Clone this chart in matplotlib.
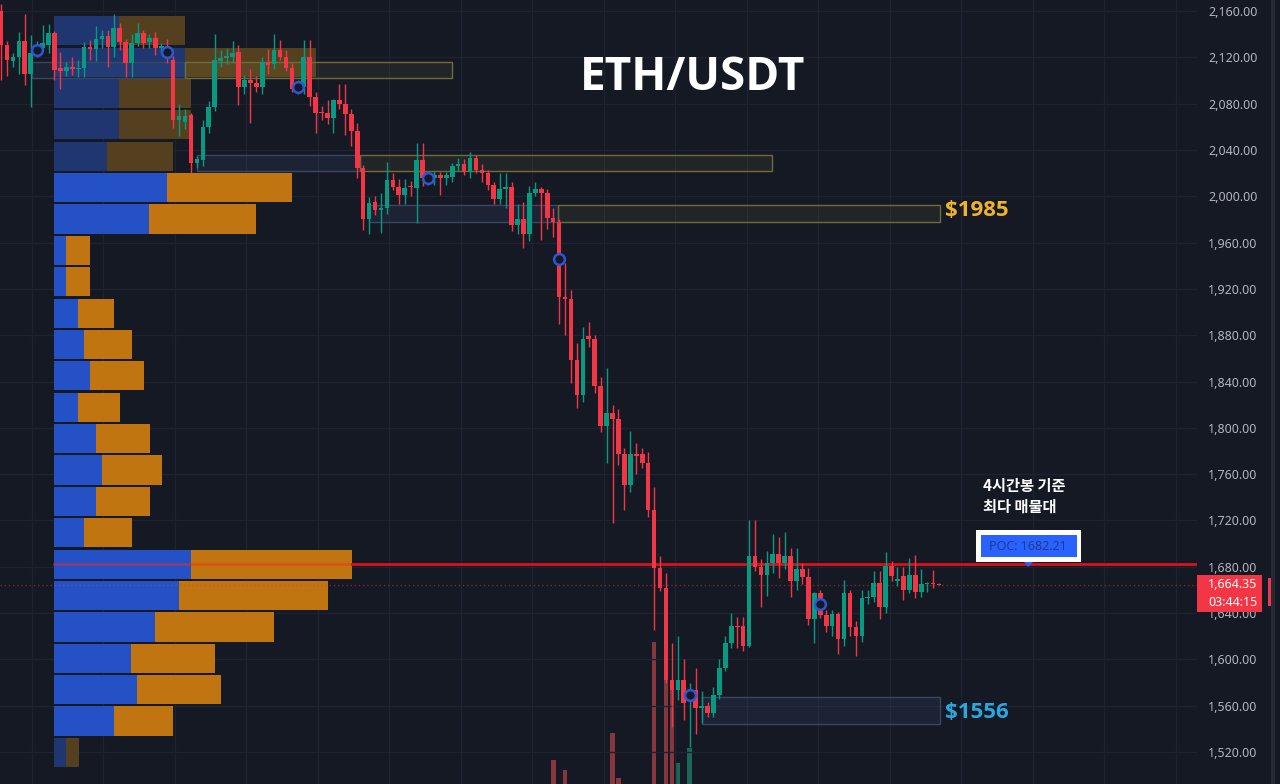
import numpy as np
import matplotlib.pyplot as plt
from matplotlib.patches import Rectangle, Polygon

plt.rcParams['font.family'] = ['Noto Sans', 'DejaVu Sans']

# ---- 4h candles (ETH/USDT) ----
opens = [2160, 2131, 2117, 2120, 2134, 2106, 2124, 2128, 2131, 2141,
         2111, 2108, 2112, 2110, 2111, 2129, 2127, 2136, 2138, 2129,
         2145, 2133, 2115, 2132, 2141, 2133, 2137, 2128, 2130, 2118,
         2066, 2064, 2070, 2029, 2031, 2060, 2077, 2117, 2119, 2120,
         2125, 2094, 2100, 2098, 2094, 2116, 2114, 2126, 2120, 2111,
         2093, 2094, 2120, 2086, 2073, 2072, 2068, 2083, 2080, 2071,
         2056, 2024, 1980, 1995, 1988, 1990, 2014, 2008, 2001, 2009,
         2007, 2031, 2015, 2016, 2018, 2016, 2017, 2026, 2028, 2021,
         2033, 2023, 2020, 2010, 1998, 2006, 2008, 1975, 1980, 1967,
         2003, 2006, 2003, 1981, 1978, 1913, 1911, 1859, 1828, 1879,
         1877, 1836, 1802, 1813, 1808, 1777, 1751, 1777, 1777, 1770,
         1729, 1679, 1662, 1582, 1574, 1582, 1566, 1574, 1558, 1560,
         1554, 1569, 1593, 1614, 1629, 1629, 1612, 1689, 1680, 1673,
         1683, 1691, 1683, 1689, 1668, 1678, 1671, 1635, 1657, 1638,
         1629, 1639, 1618, 1657, 1628, 1620, 1653, 1654, 1666, 1645,
         1681, 1668, 1672, 1660, 1673, 1658, 1665, 1666, 1665]
highs = [2166, 2134, 2124, 2142, 2157, 2139, 2134, 2148, 2149, 2143,
         2125, 2116, 2120, 2118, 2133, 2135, 2147, 2144, 2144, 2157,
         2150, 2136, 2140, 2150, 2144, 2140, 2142, 2132, 2136, 2121,
         2080, 2075, 2072, 2035, 2066, 2082, 2140, 2126, 2128, 2134,
         2131, 2105, 2110, 2104, 2120, 2127, 2140, 2135, 2126, 2115,
         2100, 2135, 2135, 2090, 2078, 2083, 2084, 2097, 2097, 2075,
         2063, 2027, 1999, 2000, 2003, 2030, 2020, 2015, 2015, 2013,
         2046, 2046, 2020, 2022, 2021, 2021, 2029, 2033, 2032, 2038,
         2036, 2028, 2023, 2012, 2020, 2020, 2012, 1993, 1995, 2009,
         2012, 2008, 2006, 1990, 1980, 1942, 1919, 1873, 1887, 1891,
         1880, 1844, 1852, 1820, 1816, 1783, 1797, 1787, 1783, 1779,
         1749, 1689, 1675, 1614, 1620, 1600, 1580, 1593, 1573, 1563,
         1576, 1600, 1620, 1640, 1637, 1637, 1720, 1720, 1687, 1694,
         1708, 1706, 1710, 1696, 1696, 1683, 1679, 1658, 1660, 1643,
         1643, 1641, 1669, 1660, 1633, 1660, 1660, 1676, 1676, 1693,
         1685, 1680, 1680, 1688, 1690, 1678, 1667, 1677, 1666]
lows = [2100, 2104, 2112, 2106, 2096, 2077, 2120, 2126, 2124, 2100,
        2093, 2104, 2105, 2103, 2103, 2118, 2117, 2128, 2112, 2120,
        2126, 2103, 2103, 2130, 2128, 2128, 2122, 2124, 2115, 2059,
        2052, 2058, 2020, 2024, 2026, 2055, 2074, 2112, 2114, 2115,
        2079, 2088, 2063, 2090, 2088, 2106, 2110, 2118, 2108, 2090,
        2088, 2088, 2078, 2055, 2066, 2062, 2055, 2075, 2053, 2043,
        2016, 1971, 1967, 1984, 1968, 1985, 2005, 1993, 1993, 2000,
        1977, 2009, 2010, 2010, 2001, 2010, 2012, 2022, 2018, 2016,
        2020, 2012, 2005, 1993, 1993, 1990, 1970, 1967, 1955, 1961,
        2000, 1962, 1972, 1965, 1890, 1880, 1839, 1817, 1822, 1870,
        1830, 1796, 1770, 1718, 1768, 1729, 1745, 1760, 1765, 1723,
        1625, 1659, 1580, 1542, 1565, 1548, 1524, 1536, 1545, 1550,
        1550, 1566, 1590, 1610, 1610, 1607, 1611, 1676, 1645, 1655,
        1675, 1670, 1678, 1654, 1660, 1665, 1630, 1614, 1636, 1624,
        1620, 1605, 1612, 1620, 1603, 1615, 1648, 1650, 1635, 1640,
        1668, 1663, 1651, 1657, 1653, 1654, 1658, 1662, 1664]
closes = [2131, 2118, 2120, 2134, 2106, 2124, 2128, 2132, 2141, 2109,
          2108, 2112, 2110, 2111, 2129, 2127, 2136, 2138, 2129, 2145,
          2133, 2115, 2132, 2141, 2132, 2137, 2128, 2130, 2121, 2066,
          2069, 2069, 2029, 2032, 2060, 2077, 2118, 2119, 2121, 2124,
          2094, 2100, 2098, 2094, 2116, 2113, 2126, 2120, 2111, 2093,
          2095, 2120, 2086, 2072, 2072, 2068, 2083, 2080, 2071, 2056,
          2024, 1980, 1994, 1988, 1990, 2014, 2008, 2001, 2007, 2008,
          2031, 2016, 2016, 2018, 2016, 2018, 2026, 2028, 2021, 2033,
          2023, 2020, 2010, 1998, 2006, 2008, 1975, 1980, 1967, 2003,
          2006, 2003, 1981, 1978, 1913, 1911, 1859, 1828, 1877, 1877,
          1836, 1802, 1813, 1808, 1777, 1751, 1777, 1776, 1770, 1729,
          1679, 1662, 1582, 1574, 1582, 1562, 1569, 1558, 1560, 1554,
          1569, 1593, 1614, 1629, 1628, 1612, 1689, 1680, 1673, 1683,
          1691, 1683, 1689, 1668, 1678, 1671, 1635, 1657, 1638, 1629,
          1639, 1618, 1657, 1628, 1620, 1653, 1654, 1666, 1645, 1681,
          1672, 1669, 1660, 1673, 1658, 1665, 1666, 1665, 1664.35]

# volume bars that reach into the visible area (candle index, volume)
vol_index = [93, 95, 103, 104, 110, 112, 113, 114, 116]
vol_values = [24, 14, 51, 6, 142, 104, 94, 21, 36]

# volume profile (24 rows, top -> bottom)
profile_top = 2156.5
profile_bin = 27.1
profile_buy = [65, 131, 65, 65, 53, 113, 95, 12, 12, 24, 30, 36, 24, 42, 48, 42,
               30, 137, 125, 101, 77, 83, 60, 12]
profile_sell = [66, 131, 72, 72, 66, 125, 107, 24, 24, 36, 48, 54, 42, 54, 60, 54,
                48, 161, 149, 119, 84, 84, 59, 13]
profile_dim = [0, 1, 2, 3, 4, 23]

# pivot markers
pivot_index = [6, 28, 50, 72, 94, 116, 138]
pivot_price = [2126, 2125, 2094, 2016, 1946, 1569, 1648]

# zones: (start index, end index, low, high)
zones_blue = [(5.2, 31.0, 2102, 2116), (33.0, 60.5, 2021.8, 2035.6),
              (62.0, 93.8, 1977.8, 1992.4), (118.1, 158.2, 1544.2, 1567.5)]
zones_yellow = [(31.0, 76.0, 2102, 2116), (60.5, 129.9, 2021.8, 2035.6),
                (93.8, 158.2, 1977.8, 1992.4)]

poc_price = 1682.21
last_price = 1664.35
yticks = list(range(1520, 2161, 40))

BG = '#151924'
UP = '#089981'
DOWN = '#f23645'
W, H = 1280, 784
PX = 1 / 5.937  # candle index per pixel
BOLD = ['Open Sans', 'DejaVu Sans']

fig = plt.figure(figsize=(12.8, 7.84), dpi=100)
fig.patch.set_facecolor(BG)
ax = fig.add_axes([0, 0, 1197 / W, 1])
ax.set_facecolor(BG)
axv = ax.twinx()  # volume overlay (created first, twinx resets tick side)
ax.set_zorder(axv.get_zorder() + 1)
ax.patch.set_visible(False)
axv.set_facecolor(BG)
ax.set_xlim(-0.17, 201.45)
ax.set_ylim(1492.4, 2169.5)

# grid / axis
ax.set_xticks(np.arange(5.2, 201, 12.04))
ax.set_yticks(yticks)
ax.set_yticklabels([f'{v:,.2f}' for v in yticks])
ax.yaxis.tick_right()
ax.tick_params(axis='x', length=0, labelbottom=False)
ax.tick_params(axis='y', length=0, pad=8, labelsize=9, labelcolor='#b2b5be',
               left=False, labelleft=False, right=True, labelright=True)
ax.grid(color='#1f2330', lw=1)
ax.set_axisbelow(True)
for s in ax.spines.values():
    s.set_visible(False)

# volume bars
axv.set_ylim(0, H)
axv.set_yticks([])
for s in axv.spines.values():
    s.set_visible(False)
vcols = ['#1b6656' if closes[i] >= opens[i] else '#86373d' for i in vol_index]
axv.bar(vol_index, vol_values, width=0.8, color=vcols)

# volume profile
prof_left = 53 * PX
centers = [profile_top - profile_bin * (k + 0.5) for k in range(len(profile_buy))]
for k, (yc, b, s) in enumerate(zip(centers, profile_buy, profile_sell)):
    dim = k in profile_dim
    cb = '#1f3670' if dim else '#2451c6'
    cs = '#54401f' if dim else '#c07511'
    ax.barh(yc, b * PX, left=prof_left, height=profile_bin * 0.93, color=cb, zorder=1)
    ax.barh(yc, s * PX, left=prof_left + b * PX, height=profile_bin * 0.93, color=cs, zorder=1)

# zones
for i0, i1, lo, hi in zones_blue:
    ax.add_patch(Rectangle((i0, lo), i1 - i0, hi - lo, facecolor=(0.3, 0.42, 0.65, 0.13),
                           edgecolor='#3a4763', lw=1, zorder=2))
for i0, i1, lo, hi in zones_yellow:
    ax.add_patch(Rectangle((i0, lo), i1 - i0, hi - lo, facecolor=(0.6, 0.58, 0.3, 0.10),
                           edgecolor='#6f6b3b', lw=1, zorder=2))

# POC line
poc_row = 17
poc_end = prof_left + (profile_buy[poc_row] + profile_sell[poc_row]) * PX
ax.plot([prof_left, poc_end], [poc_price, poc_price], color='#ff2a1a', lw=2, alpha=0.45, zorder=2)
ax.plot([poc_end, 201.45], [poc_price, poc_price], color='#d3141c', lw=2, zorder=2)

# last price dotted line
ax.axhline(last_price, color='#f23645', lw=1, ls=(0, (1, 2)), alpha=0.45, zorder=2)

# candles
idx = np.arange(len(opens))
o = np.array(opens, float)
c = np.array(closes, float)
col = np.where(c >= o, UP, DOWN)
ax.vlines(idx, lows, highs, colors=col, lw=1, zorder=3)
body = np.maximum(np.abs(c - o), 1.2)
ax.bar(idx, body, bottom=np.minimum(o, c), width=0.78, color=col, zorder=4)

ax.scatter(pivot_index, pivot_price, s=60, facecolors=BG, edgecolors='#2d55d6', linewidths=1.8, zorder=5)

# zone labels
ax.text(159.0, 1988, '$1985', color='#f0b429', fontsize=16, fontweight='bold', family=BOLD,
        va='center', ha='left')
ax.text(159.0, 1554, '$1556', color='#29a8e0', fontsize=16, fontweight='bold', family=BOLD,
        va='center', ha='left')

# title
fig.text(693 / W, 1 - 77 / H, 'ETH/USDT', color='white', fontsize=33, fontweight='bold',
         family=BOLD, ha='center', va='center', zorder=11)

# korean note
kr = ['Noto Sans CJK KR', 'DejaVu Sans']
fig.text(983 / W, 1 - 486 / H, '4시간봉 기준', family=kr, color='white', fontsize=11,
         fontweight='bold', va='center', ha='left', zorder=11)
fig.text(983 / W, 1 - 507 / H, '최다 매물대', family=kr, color='white', fontsize=11,
         fontweight='bold', va='center', ha='left', zorder=11)


def fig_rect(x0, y0, x1, y1, color):
    fig.add_artist(Rectangle((x0 / W, 1 - y1 / H), (x1 - x0) / W, (y1 - y0) / H,
                             transform=fig.transFigure, facecolor=color, edgecolor='none',
                             zorder=10))


# POC label
fig_rect(976, 530, 1081, 562, 'white')
fig_rect(981, 535, 1077, 557, '#2962ff')
fig.text(1028 / W, 1 - 546 / H, f'POC: {poc_price}', color='#1e3c8c', fontsize=9,
         ha='center', va='center', zorder=11)
fig.add_artist(Polygon([(1024 / W, 1 - 562 / H), (1033 / W, 1 - 562 / H), (1028.5 / W, 1 - 567 / H)],
                       closed=True, transform=fig.transFigure, facecolor='#2962ff', edgecolor='none',
                       zorder=10))

# right-side strip and price tag
fig_rect(1271, 0, 1275, 784, '#262a35')
fig_rect(1268, 578, 1271, 606, '#f23645')
fig_rect(1197, 575, 1262, 612, '#f23645')
fig.text(1208 / W, 1 - 585 / H, f'{last_price:,.2f}', color='white', fontsize=9,
         va='center', ha='left', zorder=11)
fig.text(1208 / W, 1 - 602 / H, '03:44:15', color='white', fontsize=9,
         va='center', ha='left', zorder=11)

fig.savefig('out.png', dpi=100, facecolor=BG)
